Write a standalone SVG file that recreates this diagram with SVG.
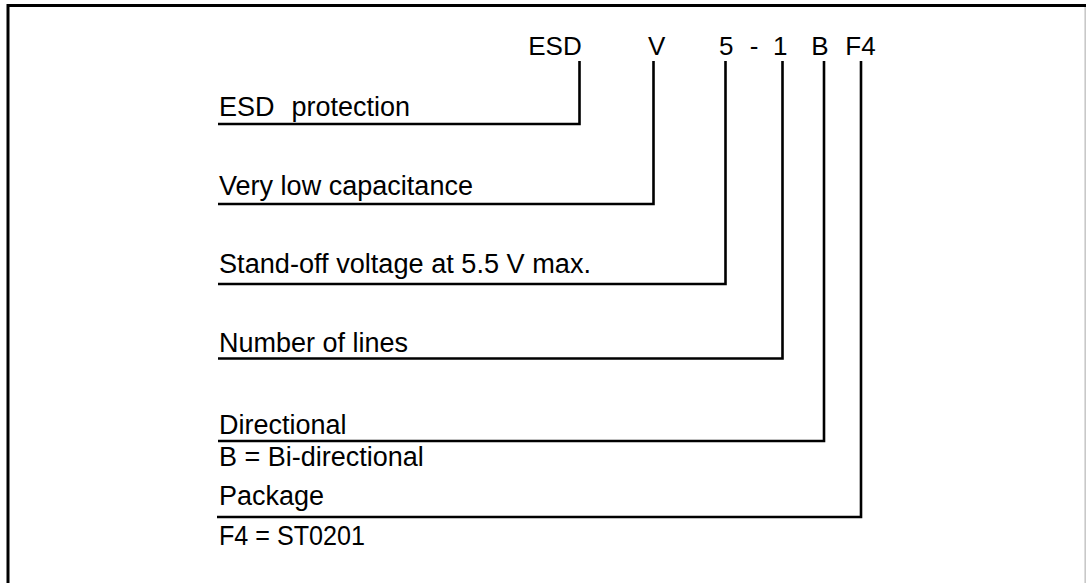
<svg xmlns="http://www.w3.org/2000/svg" width="1086" height="583" viewBox="0 0 1086 583">
  <style>
    .lbl { font-family: "Liberation Sans", Arial, sans-serif; font-size: 27px; fill: #000; }
    .code { font-family: "Liberation Sans", Arial, sans-serif; font-size: 26px; fill: #000; text-anchor: middle; }
    .conn { fill: none; stroke: #000; stroke-width: 2.6; stroke-linejoin: miter; stroke-linecap: butt; }
    .frame { stroke: #000; stroke-width: 3; fill: none; }
  </style>
  <rect width="1086" height="583" fill="#fff"/>
  <g id="frame">
    <line class="frame" x1="8" y1="5.5" x2="1086" y2="5.5"/>
    <line class="frame" x1="8" y1="4" x2="8" y2="583"/>
    <line x1="1085.2" y1="7" x2="1085.2" y2="583" stroke="#c8c8c8" stroke-width="1.6"/>
  </g>
  <g id="code">
    <text class="code" x="555" y="54.5">ESD</text>
    <text class="code" x="656.7" y="54.5">V</text>
    <text class="code" x="726.3" y="54.5">5</text>
    <text class="code" x="754.2" y="54.5">-</text>
    <text class="code" x="780.2" y="54.5">1</text>
    <text class="code" x="820" y="54.5">B</text>
    <text class="code" x="860.5" y="54.5">F4</text>
  </g>
  <g id="n-esd">
    <text class="lbl" y="116"><tspan x="219">ESD</tspan><tspan x="291.5">protection</tspan></text>
  </g>
  <g id="n-v">
    <text class="lbl" x="219" y="195" textLength="254" lengthAdjust="spacingAndGlyphs">Very low capacitance</text>
  </g>
  <g id="n-5">
    <text class="lbl" x="219" y="273" textLength="372" lengthAdjust="spacingAndGlyphs">Stand-off voltage at 5.5 V max.</text>
  </g>
  <g id="n-1">
    <text class="lbl" x="219" y="352">Number of lines</text>
  </g>
  <g id="n-b">
    <text class="lbl" x="219" y="434">Directional</text>
    <text class="lbl" x="219" y="466">B = Bi-directional</text>
  </g>
  <g id="n-f4">
    <text class="lbl" x="219" y="505">Package</text>
    <text class="lbl" x="219" y="545" textLength="146" lengthAdjust="spacingAndGlyphs">F4 = ST0201</text>
  </g>
  <g id="connectors">
    <polyline class="conn" points="218,124 579.5,124 579.5,61"/>
    <polyline class="conn" points="218,204 653.5,204 653.5,61"/>
    <polyline class="conn" points="218,284 725.5,284 725.5,61"/>
    <polyline class="conn" points="218,358.5 782.5,358.5 782.5,61"/>
    <polyline class="conn" points="218,441 824,441 824,61"/>
    <polyline class="conn" points="217,517 861,517 861,61"/>
  </g>
</svg>
